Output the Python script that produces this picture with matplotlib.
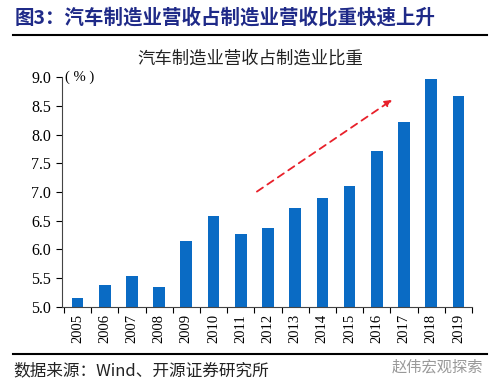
import matplotlib
matplotlib.use("Agg")
import matplotlib.pyplot as plt
from matplotlib.lines import Line2D
import numpy as np

years = ["2005", "2006", "2007", "2008", "2009", "2010", "2011", "2012",
         "2013", "2014", "2015", "2016", "2017", "2018", "2019"]
share = [5.15, 5.38, 5.54, 5.35, 6.15, 6.58, 6.27, 6.37,
         6.72, 6.90, 7.10, 7.72, 8.22, 8.96, 8.67]
yticks = [5.0, 5.5, 6.0, 6.5, 7.0, 7.5, 8.0, 8.5, 9.0]

fig_title = "图3：汽车制造业营收占制造业营收比重快速上升"
chart_title = "汽车制造业营收占制造业比重"
source = "数据来源：Wind、开源证券研究所"
watermark = "赵伟宏观探索"

cjk = ["Noto Sans CJK SC", "DejaVu Sans"]
serif = ["Liberation Serif", "DejaVu Serif"]

fig = plt.figure(figsize=(5.0, 3.88), dpi=100)
ax = fig.add_axes([0.124, 0.2088, 0.82, 0.5927])

x = np.arange(len(years))
ax.bar(x, share, width=0.43, color="#0A6BC4", zorder=2)
ax.set_xlim(-0.57, len(years) - 0.52)
ax.set_ylim(5.0, 9.0)
ax.set_yticks(yticks)
ax.set_yticklabels([f"{v:.1f}" for v in yticks], fontfamily=serif, fontsize=11.5)
ax.set_xticks(x)
ax.set_xticklabels(years, rotation=90, fontfamily=serif, fontsize=10.5)
ax.set_xticks(np.arange(-0.5, len(years) + 0.5, 1.0), minor=True)
ax.tick_params(axis="x", which="major", length=0, pad=5)
ax.tick_params(axis="x", which="minor", length=4, direction="out", width=0.8)
ax.tick_params(axis="y", length=4, direction="out", width=0.8, pad=4)
for s in ["top", "right"]:
    ax.spines[s].set_visible(False)
for s in ["left", "bottom"]:
    ax.spines[s].set_linewidth(0.8)
    ax.spines[s].set_color("#444444")

ax.text(-0.45, 9.0, "( % )", fontfamily=serif, fontsize=10.5, va="center", ha="left")

ax.annotate("", xy=(11.65, 8.63), xytext=(6.51, 6.98),
            arrowprops=dict(arrowstyle="-|>", color="#E8202A", lw=1.3,
                            linestyle=(0, (4, 3)), mutation_scale=10))

fig.text(0.03, 0.955, fig_title, fontfamily=cjk, fontsize=14,
         fontweight="bold", color="#1F2A88", va="center", ha="left")
fig.add_artist(Line2D([0.026, 0.974], [0.91, 0.91], color="black", lw=1.5))
fig.text(0.5, 0.85, chart_title, fontfamily=cjk, fontsize=12.5, va="center",
         ha="center", color="#222222")
fig.add_artist(Line2D([0.026, 0.974], [0.088, 0.088], color="black", lw=1.5))
fig.text(0.026, 0.045, source, fontfamily=cjk, fontsize=12, va="center",
         ha="left", color="#222222")
fig.text(0.966, 0.055, watermark, fontfamily=cjk, fontsize=11, va="center",
         ha="right", color="#999999")

fig.savefig("out.png", dpi=100)
